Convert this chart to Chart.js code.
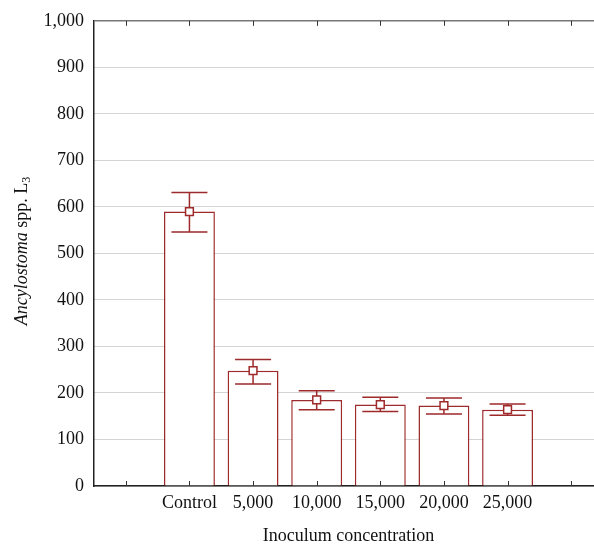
<!DOCTYPE html>
<html>
<head>
<meta charset="utf-8">
<script src="https://cdn.jsdelivr.net/npm/chart.js@4"></script>
<style>
  html, body { margin: 0; padding: 0; background: #fff; overflow: hidden; }
  #wrap { width: 612px; height: 544px; }
</style>
</head>
<body>
<div id="wrap"><canvas id="c" width="612" height="544"></canvas></div>
<script>
// ---- data ----
const categories = [' ', 'Control', '5,000', '10,000', '15,000', '20,000', '25,000', '  '];
const means      = [null, 590, 248, 185, 175, 173, 164, null];
const errHigh    = [null, 631, 272, 205, 191, 189, 176, null];
const errLow     = [null, 546, 219, 164, 160, 155, 152, null];
const yTicks     = [0, 100, 200, 300, 400, 500, 600, 700, 800, 900, 1000];
const xTitle = 'Inoculum concentration';
const yTitleItalic = 'Ancylostoma';
const yTitleRest = ' spp. L';
const yTitleSub = '3';

const RED = '#9e2a2b';
const SERIF = '"Liberation Serif", "Times New Roman", serif';

const decorPlugin = {
  id: 'decor',
  afterDatasetDraw(chart, args) {
    if (args.index !== 0) return;
    const ctx = chart.ctx, x = chart.scales.x, y = chart.scales.y;
    ctx.save();
    ctx.strokeStyle = RED;
    ctx.lineWidth = 1.5;
    const cap = 18;
    for (let i = 0; i < categories.length; i++) {
      if (errHigh[i] == null) continue;
      const px = x.getPixelForValue(i);
      const yh = y.getPixelForValue(errHigh[i]);
      const yl = y.getPixelForValue(errLow[i]);
      ctx.beginPath();
      ctx.moveTo(px, yh); ctx.lineTo(px, yl);
      ctx.moveTo(px - cap, yh); ctx.lineTo(px + cap, yh);
      ctx.moveTo(px - cap, yl); ctx.lineTo(px + cap, yl);
      ctx.stroke();
    }
    ctx.restore();
  },
  afterDraw(chart) {
    const ctx = chart.ctx, a = chart.chartArea, x = chart.scales.x;
    ctx.save();
    // top frame line
    ctx.strokeStyle = '#777';
    ctx.lineWidth = 1.5;
    ctx.beginPath();
    ctx.moveTo(a.left, a.top); ctx.lineTo(a.right, a.top);
    ctx.stroke();
    // inward tick marks top and bottom
    ctx.strokeStyle = '#333';
    ctx.lineWidth = 1;
    ctx.beginPath();
    for (let i = 0; i < categories.length; i++) {
      const px = Math.round(x.getPixelForTick(i)) + 0.5;
      ctx.moveTo(px, a.bottom); ctx.lineTo(px, a.bottom - 5);
      ctx.moveTo(px, a.top); ctx.lineTo(px, a.top + 5);
    }
    ctx.stroke();
    // x title
    ctx.fillStyle = '#111';
    ctx.font = '18px ' + SERIF;
    ctx.textAlign = 'center';
    ctx.textBaseline = 'alphabetic';
    ctx.fillText(xTitle, (a.left + a.right - 18) / 2 + 9, 541);
    // y title (rotated, mixed style)
    const fItal = 'italic 18px ' + SERIF;
    const fNorm = '18px ' + SERIF;
    const fSub = '12px ' + SERIF;
    ctx.font = fItal; const w1 = ctx.measureText(yTitleItalic).width;
    ctx.font = fNorm; const w2 = ctx.measureText(yTitleRest).width;
    ctx.font = fSub;  const w3 = ctx.measureText(yTitleSub).width;
    const total = w1 + w2 + w3;
    ctx.translate(27, 251);
    ctx.rotate(-Math.PI / 2);
    ctx.textAlign = 'left';
    let sx = -total / 2;
    ctx.font = fItal; ctx.fillText(yTitleItalic, sx, 0); sx += w1;
    ctx.font = fNorm; ctx.fillText(yTitleRest, sx, 0); sx += w2;
    ctx.font = fSub;  ctx.fillText(yTitleSub, sx, 3);
    ctx.restore();
  }
};

new Chart(document.getElementById('c'), {
  type: 'bar',
  data: {
    labels: categories,
    datasets: [
      {
        type: 'bar',
        data: means,
        backgroundColor: '#ffffff',
        borderColor: RED,
        borderWidth: 1.5,
        barPercentage: 0.8,
        categoryPercentage: 1.0,
        order: 2
      },
      {
        type: 'line',
        data: means,
        showLine: false,
        pointStyle: 'rect',
        pointRadius: 5.5,
        pointBorderWidth: 1.5,
        pointBackgroundColor: '#ffffff',
        pointBorderColor: RED,
        order: 1
      }
    ]
  },
  options: {
    responsive: false,
    animation: false,
    events: [],
    layout: { padding: { left: 0, top: 16, right: 9, bottom: 0 } },
    plugins: { legend: { display: false }, tooltip: { enabled: false } },
    scales: {
      x: {
        grid: { display: true, drawOnChartArea: false, drawTicks: false, color: 'transparent' },
        border: { display: true, color: '#222', width: 1.5 },
        ticks: { color: '#111', font: { family: SERIF, size: 18 }, padding: 6, maxRotation: 0, autoSkip: false },
        afterFit(s) { s.height = 58; }
      },
      y: {
        min: 0, max: 1000,
        afterBuildTicks(s) { s.ticks = yTicks.map(v => ({ value: v })); },
        grid: { color: '#a8a8a8', lineWidth: 1, drawTicks: false },
        border: { display: true, color: '#222', width: 1.5, dash: [1, 1] },
        ticks: {
          color: '#111', font: { family: SERIF, size: 18 }, padding: 10,
          callback: v => v.toLocaleString('en-US')
        },
        afterFit(s) { s.width = 94; }
      }
    }
  },
  plugins: [decorPlugin]
});
</script>
</body>
</html>
